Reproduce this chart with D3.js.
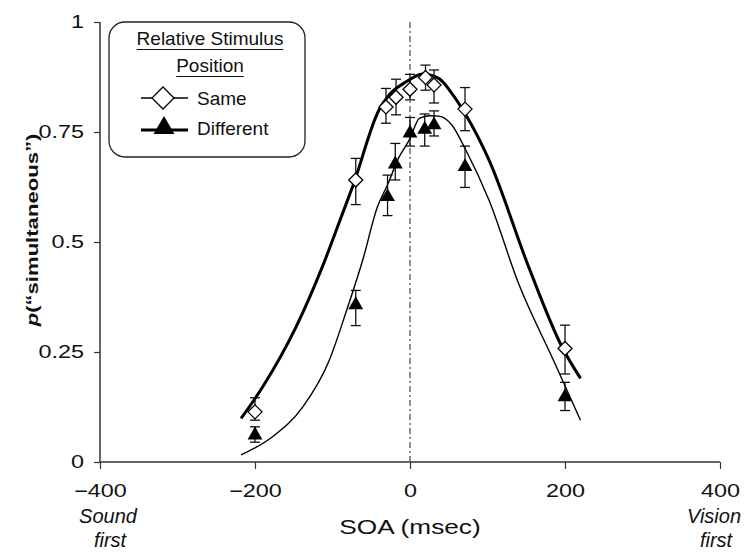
<!DOCTYPE html>
<html>
<head>
<meta charset="utf-8">
<title>p(simultaneous) by SOA</title>
<script src="https://d3js.org/d3.v7.min.js"></script>
<style>
    body {
        margin: 0;
        background: #fff;
        font-family: 'Liberation Sans', Arial, sans-serif;
    }
    .tickLabel {
        font-size: 18px;
        fill: #111;
    }
    .legendText {
        font-size: 19px;
        fill: #111;
    }
</style>
</head>
<body>
<svg id="chart" width="744" height="552"></svg>
<script>
    // observed data: SOA (msec), proportion, error bar low/high
    const sameSOA  = [-200, -70, -31, -18, 0, 20, 31, 71, 200];
    const sameP    = [0.114, 0.641, 0.807, 0.829, 0.847, 0.874, 0.857, 0.802, 0.258];
    const sameLo   = [0.095, 0.585, 0.770, 0.789, 0.823, 0.845, 0.816, 0.753, 0.200];
    const sameHi   = [0.146, 0.690, 0.849, 0.870, 0.881, 0.902, 0.891, 0.851, 0.311];

    const diffSOA  = [-200, -70, -29, -19, 0, 19, 31, 71, 200];
    const diffP    = [0.061, 0.357, 0.603, 0.677, 0.747, 0.756, 0.766, 0.671, 0.148];
    const diffLo   = [0.045, 0.310, 0.560, 0.641, 0.718, 0.718, 0.741, 0.624, 0.117];
    const diffHi   = [0.080, 0.390, 0.652, 0.724, 0.783, 0.791, 0.798, 0.718, 0.181];

    // fitted curves
    const sameFitX = [-218, -190, -147, -113, -87, -74, -40, -27, -5, 16, 37, 54, 72, 102, 153, 196, 220];
    const sameFitY = [0.099, 0.171, 0.307, 0.444, 0.565, 0.626, 0.800, 0.834, 0.864, 0.882, 0.872, 0.838, 0.789, 0.686, 0.444, 0.262, 0.190];
    const diffFitX = [-218, -177, -138, -104, -83, -61, -42, -29, -15, 0, 12, 25, 37, 54, 72, 102, 140, 187, 220];
    const diffFitY = [0.016, 0.058, 0.126, 0.232, 0.338, 0.459, 0.580, 0.630, 0.690, 0.735, 0.781, 0.787, 0.786, 0.766, 0.709, 0.595, 0.406, 0.224, 0.095];

    const xTicks = [-400, -200, 0, 200, 400];
    const yTicks = [0, 0.25, 0.5, 0.75, 1];

    const svg = d3.select("#chart");
    const x = d3.scaleLinear().domain([-400, 400]).range([100, 720]);
    const y = d3.scaleLinear().domain([0, 1]).range([462, 22]);
    const axisColor = "#333";
    const stretch = 1.3;   // the scan's lettering is wide

    // axes
    const xAxis = svg.append("g")
        .attr("transform", "translate(0," + y(0) + ")")
        .call(d3.axisBottom(x).tickValues(xTicks).tickSize(7).tickFormat(d => d < 0 ? "\u2212" + Math.abs(d) : d));
    xAxis.select(".domain").attr("stroke", axisColor).attr("stroke-width", 1.5).attr("d", "M" + x(-400) + ",0H" + x(400));
    xAxis.selectAll(".tick line").attr("stroke", axisColor).attr("stroke-width", 1.2);
    xAxis.selectAll(".tick text").attr("class", "tickLabel")
        .attr("y", 35).attr("dy", null)
        .attr("transform", "scale(" + stretch + ",1)")
        .attr("font-family", null).attr("font-size", null);

    const yAxis = svg.append("g")
        .attr("transform", "translate(" + x(-400) + ",0)")
        .call(d3.axisLeft(y).tickValues(yTicks).tickSize(6).tickFormat(d => d));
    yAxis.select(".domain").attr("stroke", axisColor).attr("stroke-width", 1.5).attr("d", "M0," + y(1) + "V" + y(0));
    yAxis.selectAll(".tick line").attr("stroke", axisColor).attr("stroke-width", 1.2);
    yAxis.selectAll(".tick text").attr("class", "tickLabel")
        .attr("x", -16 / stretch)
        .attr("transform", "scale(" + stretch + ",1)")
        .attr("font-family", null).attr("font-size", null);

    // zero line
    svg.append("line")
        .attr("x1", x(0)).attr("x2", x(0))
        .attr("y1", y(1)).attr("y2", y(0))
        .attr("stroke", "#444").attr("stroke-width", 1.2)
        .attr("stroke-dasharray", "6,3,2,3");

    // axis titles
    svg.append("text")
        .attr("transform", "translate(38,230) rotate(-90) scale(" + stretch + ",1)")
        .attr("text-anchor", "middle")
        .attr("font-size", "17px").attr("font-weight", "bold").attr("fill", "#111")
        .html('<tspan font-style="italic">p</tspan>(\u201Csimultaneous\u201D)');
    svg.append("text")
        .attr("transform", "translate(" + x(0) + ",534) scale(1.28,1)")
        .attr("text-anchor", "middle")
        .attr("font-size", "20.5px").attr("fill", "#111")
        .text("SOA (msec)");

    const sideNotes = [
        {t1: "Sound", t2: "first", cx: 108},
        {t1: "Vision", t2: "first", cx: 714}
    ];
    sideNotes.forEach(n => {
        const t = svg.append("text")
            .attr("text-anchor", "middle")
            .attr("font-size", "20px").attr("font-style", "italic").attr("fill", "#111");
        t.append("tspan").attr("x", n.cx).attr("y", 523).text(n.t1);
        t.append("tspan").attr("x", n.cx + 2).attr("y", 547).text(n.t2);
    });

    // fitted curves
    const line = d3.line().x(d => x(d[0])).y(d => y(d[1])).curve(d3.curveMonotoneX);
    svg.append("path")
        .datum(sameFitX.map((v, i) => [v, sameFitY[i]]))
        .attr("d", line).attr("fill", "none").attr("stroke", "#000").attr("stroke-width", 3);
    svg.append("path")
        .datum(diffFitX.map((v, i) => [v, diffFitY[i]]))
        .attr("d", line).attr("fill", "none").attr("stroke", "#000").attr("stroke-width", 1.4);

    // error bars
    function errorBars(xs, lo, hi) {
        const g = svg.append("g").attr("stroke", "#111").attr("stroke-width", 1.3);
        xs.forEach((v, i) => {
            g.append("line").attr("x1", x(v)).attr("x2", x(v)).attr("y1", y(lo[i])).attr("y2", y(hi[i]));
            [lo[i], hi[i]].forEach(e => {
                g.append("line").attr("x1", x(v) - 5).attr("x2", x(v) + 5).attr("y1", y(e)).attr("y2", y(e));
            });
        });
    }
    errorBars(diffSOA, diffLo, diffHi);
    errorBars(sameSOA, sameLo, sameHi);

    // markers
    const triangle = d3.symbol().type(d3.symbolTriangle).size(95);
    const diamond = "M0,-7L7,0L0,7L-7,0Z";
    svg.append("g").selectAll("path")
        .data(diffSOA.map((v, i) => [v, diffP[i]]))
        .join("path")
        .attr("transform", d => "translate(" + x(d[0]) + "," + y(d[1]) + ")")
        .attr("d", triangle).attr("fill", "#000");
    svg.append("g").selectAll("path")
        .data(sameSOA.map((v, i) => [v, sameP[i]]))
        .join("path")
        .attr("transform", d => "translate(" + x(d[0]) + "," + y(d[1]) + ")")
        .attr("d", diamond).attr("fill", "#fff").attr("stroke", "#000").attr("stroke-width", 1.3);

    // legend
    const legend = svg.append("g");
    legend.append("rect")
        .attr("x", 109).attr("y", 22).attr("width", 196).attr("height", 135)
        .attr("rx", 16).attr("fill", "#fff").attr("stroke", "#222").attr("stroke-width", 1.3);
    ["Relative Stimulus", "Position"].forEach((s, i) => {
        const t = legend.append("text")
            .attr("class", "legendText")
            .attr("x", 210).attr("y", 45 + i * 27)
            .attr("text-anchor", "middle")
            .text(s);
        const w = t.node().getComputedTextLength();
        legend.append("line")
            .attr("x1", 210 - w / 2).attr("x2", 210 + w / 2)
            .attr("y1", 49.5 + i * 27).attr("y2", 49.5 + i * 27)
            .attr("stroke", "#111").attr("stroke-width", 1.2);
    });
    legend.append("line").attr("x1", 141).attr("x2", 188).attr("y1", 98).attr("y2", 98)
        .attr("stroke", "#000").attr("stroke-width", 1.3);
    legend.append("path").attr("transform", "translate(163,98)")
        .attr("d", "M0,-11L11,0L0,11L-11,0Z").attr("fill", "#fff").attr("stroke", "#000").attr("stroke-width", 1.3);
    legend.append("text").attr("class", "legendText").attr("x", 197).attr("y", 105).text("Same");
    legend.append("line").attr("x1", 141).attr("x2", 188).attr("y1", 130).attr("y2", 130)
        .attr("stroke", "#000").attr("stroke-width", 3);
    legend.append("path").attr("transform", "translate(164,128)")
        .attr("d", d3.symbol().type(d3.symbolTriangle).size(190)).attr("fill", "#000");
    legend.append("text").attr("class", "legendText").attr("x", 197).attr("y", 135).text("Different");
</script>
</body>
</html>
